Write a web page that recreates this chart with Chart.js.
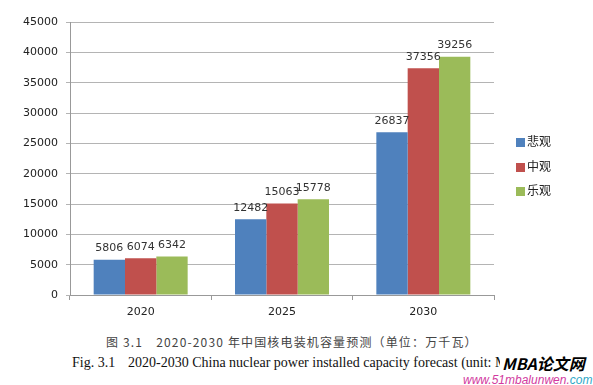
<!DOCTYPE html>
<html>
<head>
<meta charset="utf-8">
<script src="https://cdn.jsdelivr.net/npm/chart.js@4"></script>
<style>
  body { margin: 0; background: #fff; }
  #wrap { position: relative; width: 593px; height: 385px; overflow: hidden; }
  #chart { position: absolute; left: 0; top: 0; }
  #leyenda { position: absolute; left: 516px; top: 131px; font-family: "Noto Sans CJK SC"; font-size: 12px; color: #222; }
  #leyenda div { height: 24.5px; line-height: 20px; white-space: nowrap; }
  #leyenda i { display: inline-block; width: 9px; height: 9px; margin-right: 2px; vertical-align: -1px; }
  .cap-cn { position: absolute; left: 106px; top: 333px; font-family: "Noto Sans CJK SC"; font-size: 12px; color: #444; letter-spacing: 1.15px; white-space: nowrap; }
  .cap-en { position: absolute; top: 355px; font-family: "Liberation Serif"; font-size: 14px; color: #111; white-space: nowrap; }
  .wm1 { position: absolute; left: 500px; top: 353px; padding-left: 2px; background: #fff; font-family: "Noto Sans CJK SC", "DejaVu Sans"; font-weight: bold; font-style: italic; font-size: 16px; line-height: 20px; color: #000; white-space: nowrap; }
  .wm2 { position: absolute; left: 463px; top: 373px; font-family: "Liberation Sans"; font-style: italic; font-size: 12px; color: #d23aa0; white-space: nowrap; }
  .wm2 span { color: #30a8c8; }
</style>
</head>
<body>
<div id="wrap">
  <canvas id="chart" width="593" height="325"></canvas>
  <div id="leyenda"></div>
  <div class="cap-cn">图 3.1　2020-2030 年中国核电装机容量预测（单位：万千瓦）</div>
  <div class="cap-en" style="left:72px">Fig. 3.1</div>
  <div class="cap-en" style="left:128px">2020-2030 China nuclear power installed capacity forecast (unit: MW)</div>
  <div class="wm1">MBA论文网</div>
  <div class="wm2">www.51mbalunwen.<span>com</span></div>
</div>
<script>
// datos del gráfico
const years = ['2020', '2025', '2030'];
const pessimista = [5806, 12482, 26837];
const medio = [6074, 15063, 37356];
const optimista = [6342, 15778, 39256];
const seriesNames = ['悲观', '中观', '乐观'];
const yTicks = [0, 5000, 10000, 15000, 20000, 25000, 30000, 35000, 40000, 45000];

const colores = ['#4f81bd', '#c0504d', '#9bbb59'];

// etiquetas de valor encima de cada barra
const valueLabels = {
  id: 'valueLabels',
  afterDatasetsDraw(chart) {
    const ctx = chart.ctx;
    ctx.save();
    ctx.font = '11px "DejaVu Sans"';
    ctx.fillStyle = '#333';
    ctx.textAlign = 'center';
    ctx.textBaseline = 'bottom';
    chart.data.datasets.forEach((ds, i) => {
      chart.getDatasetMeta(i).data.forEach((bar, j) => {
        ctx.fillText(ds.data[j], bar.x, bar.y - 6);
      });
    });
    ctx.restore();
  }
};

const grafico = new Chart(document.getElementById('chart'), {
  type: 'bar',
  data: {
    labels: years,
    datasets: [
      { label: seriesNames[0], data: pessimista, backgroundColor: colores[0] },
      { label: seriesNames[1], data: medio, backgroundColor: colores[1] },
      { label: seriesNames[2], data: optimista, backgroundColor: colores[2] }
    ]
  },
  options: {
    responsive: false,
    animation: false,
    layout: { padding: { top: 22, left: 0, right: 99, bottom: 0 } },
    datasets: { bar: { categoryPercentage: 0.665, barPercentage: 1 } },
    plugins: {
      legend: { display: false },
      tooltip: { enabled: false }
    },
    scales: {
      x: {
        grid: { display: true, drawOnChartArea: false, offset: true, color: '#999', tickLength: 5 },
        border: { color: '#999' },
        ticks: { color: '#222', font: { family: '"DejaVu Sans"', size: 11 }, padding: 6 },
        afterFit(scale) { scale.height = 30; }
      },
      y: {
        min: 0,
        max: 45000,
        afterBuildTicks(scale) { scale.ticks = yTicks.map(v => ({ value: v })); },
        grid: { color: '#b4b4b4', tickLength: 4 },
        border: { color: '#999' },
        ticks: {
          color: '#222',
          font: { family: '"DejaVu Sans"', size: 11 },
          padding: 8,
          callback: v => String(v)
        },
        afterFit(scale) { scale.width = 70; }
      }
    }
  },
  plugins: [valueLabels]
});

// leyenda a la derecha, a partir de los datasets del gráfico
const leyenda = document.getElementById('leyenda');
grafico.data.datasets.forEach(ds => {
  const item = document.createElement('div');
  item.innerHTML = `<i style="background:${ds.backgroundColor}"></i>${ds.label}`;
  leyenda.appendChild(item);
});
</script>
</body>
</html>
